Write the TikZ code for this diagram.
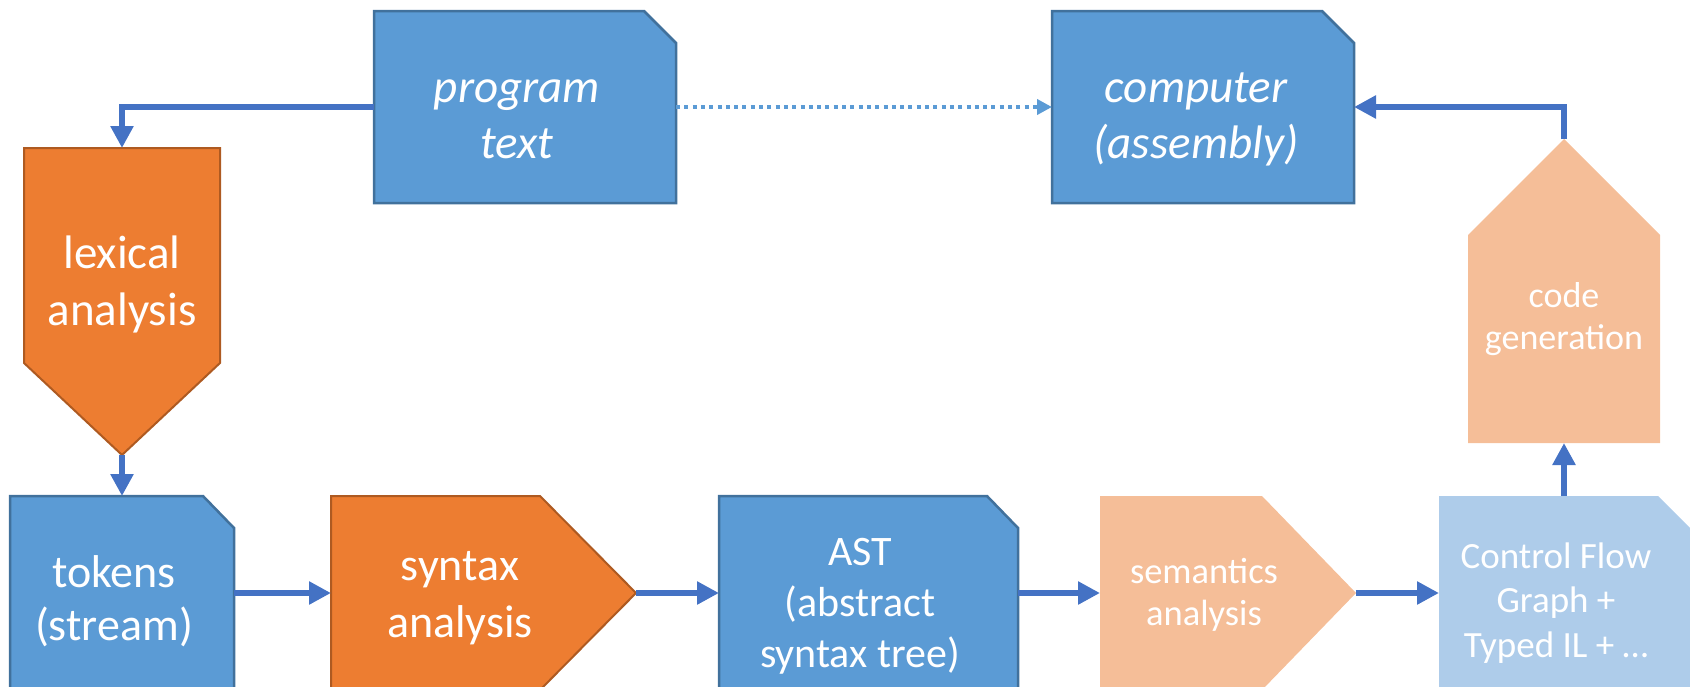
\documentclass[tikz,border=0pt]{standalone}
\usepackage{fontspec}
\setmainfont{Carlito}
\usetikzlibrary{arrows.meta}
\definecolor{bfill}{HTML}{5B9BD5}
\definecolor{bline}{HTML}{41719C}
\definecolor{ofill}{HTML}{ED7D31}
\definecolor{oline}{HTML}{AE5A21}
\definecolor{pfill}{HTML}{F5BE98}
\definecolor{lfill}{HTML}{AECCEA}
\definecolor{arrc}{HTML}{4472C4}
\newcommand{\lines}[1]{\begin{tabular}[t]{@{}c@{}}#1\end{tabular}}
\tikzset{
  frame/.style={inner sep=0pt, outer sep=0pt, draw=none},
  txt/.style={text=white, inner sep=0pt, anchor=base},
  bluebox/.style={fill=bfill, draw=bline, line width=2.5pt},
  orangebox/.style={fill=ofill, draw=oline, line width=2pt},
  peachbox/.style={fill=pfill},
  lightbox/.style={fill=lfill},
  arr/.style={draw=arrc, line width=6pt, -{Triangle[length=22pt,width=22pt]}},
  dotarr/.style={draw=bfill, line width=4pt, dash pattern=on 4pt off 4.3pt, -{Triangle[length=15pt,width=15pt]}},
}
\begin{document}
\begin{tikzpicture}[x=1pt,y=-1pt]
\useasboundingbox (0,0) rectangle (1690,686);
\clip (0,0) rectangle (1690,686);

% frames (bounding rectangles of shapes)
\node[frame, minimum width=302pt, minimum height=192pt] (prog) at (525,107) {};
\node[frame, minimum width=302pt, minimum height=192pt] (comp) at (1203,107) {};
\node[frame, minimum width=196pt, minimum height=307pt] (lex) at (122,301.5) {};
\node[frame, minimum width=224pt, minimum height=194pt] (tok) at (122,593) {};
\node[frame, minimum width=305pt, minimum height=194pt] (syn) at (483.5,593) {};
\node[frame, minimum width=299pt, minimum height=194pt] (ast) at (868.5,593) {};
\node[frame, minimum width=256pt, minimum height=194pt] (sem) at (1228,593) {};
\node[frame, minimum width=251pt, minimum height=194pt] (cfg) at (1564.5,593) {};
\node[frame, minimum width=192pt, minimum height=304pt] (gen) at (1564,291) {};

% document shapes
\path[bluebox] (prog.south west) -- (prog.north west) -- ([xshift=-32pt]prog.north east) -- ([yshift=-32pt]prog.north east) -- (prog.south east) -- cycle;
\path[bluebox] (comp.south west) -- (comp.north west) -- ([xshift=-32pt]comp.north east) -- ([yshift=-32pt]comp.north east) -- (comp.south east) -- cycle;
\path[bluebox] (tok.south west) -- (tok.north west) -- ([xshift=-31pt]tok.north east) -- ([yshift=-32pt]tok.north east) -- (tok.south east) -- cycle;
\path[bluebox] (ast.south west) -- (ast.north west) -- ([xshift=-31pt]ast.north east) -- ([yshift=-32pt]ast.north east) -- (ast.south east) -- cycle;
\path[lightbox] (cfg.south west) -- (cfg.north west) -- ([xshift=-32pt]cfg.north east) -- ([yshift=-32pt]cfg.north east) -- (cfg.south east) -- cycle;

% process shapes
\path[orangebox] (lex.north west) -- (lex.north east) -- ([yshift=92pt]lex.south east) -- (lex.south) -- ([yshift=92pt]lex.south west) -- cycle;
\path[orangebox] (syn.south west) -- (syn.north west) -- ([xshift=-96pt]syn.north east) -- (syn.east) -- ([xshift=-96pt]syn.south east) -- cycle;
\path[peachbox] (sem.south west) -- (sem.north west) -- ([xshift=-94pt]sem.north east) -- (sem.east) -- ([xshift=-94pt]sem.south east) -- cycle;
\path[peachbox] (gen.south west) -- ([yshift=-96pt]gen.north west) -- (gen.north) -- ([yshift=-96pt]gen.north east) -- (gen.south east) -- cycle;

% texts
\node[txt, font=\fontsize{47}{56}\selectfont\itshape] (progT) at (517,102) {\lines{program\\text}};
\node[txt, font=\fontsize{47}{56}\selectfont\itshape] (compT) at (1196,102) {\lines{computer\\(assembly)}};
\node[txt, font=\fontsize{47}{57}\selectfont] (lexT) at (122,268) {\lines{lexical\\analysis}};
\node[txt, font=\fontsize{46}{53}\selectfont] (tokT) at (114,587) {\lines{tokens\\(stream)}};
\node[txt, font=\fontsize{46}{57}\selectfont] (synT) at (460,580) {\lines{syntax\\analysis}};
\node[txt, font=\fontsize{42}{51}\selectfont] (astT) at (860,565) {\lines{AST\\(abstract\\syntax tree)}};
\node[txt, font=\fontsize{36.5}{42}\selectfont] (semT) at (1204,583) {\lines{semantics\\analysis}};
\node[txt, font=\fontsize{37}{44.5}\selectfont] (cfgT) at (1556,568) {\lines{Control Flow\\Graph +\\Typed IL + …}};
\node[txt, font=\fontsize{36}{42}\selectfont] (genT) at (1564,307) {\lines{code\\generation}};

% connectors
\draw[arr] (prog.west) -| (lex.north);
\draw[arr] (lex.south) -- (tok.north);
\draw[arr] (tok.east) -- (syn.west);
\draw[arr] (syn.east) -- (ast.west);
\draw[arr] (ast.east) -- (sem.west);
\draw[arr] (sem.east) -- (cfg.west);
\draw[arr] (gen.south |- cfg.north) -- (gen.south);
\draw[arr] (gen.north) |- (comp.east);
\draw[dotarr] (prog.east) -- (comp.west);
\end{tikzpicture}
\end{document}
